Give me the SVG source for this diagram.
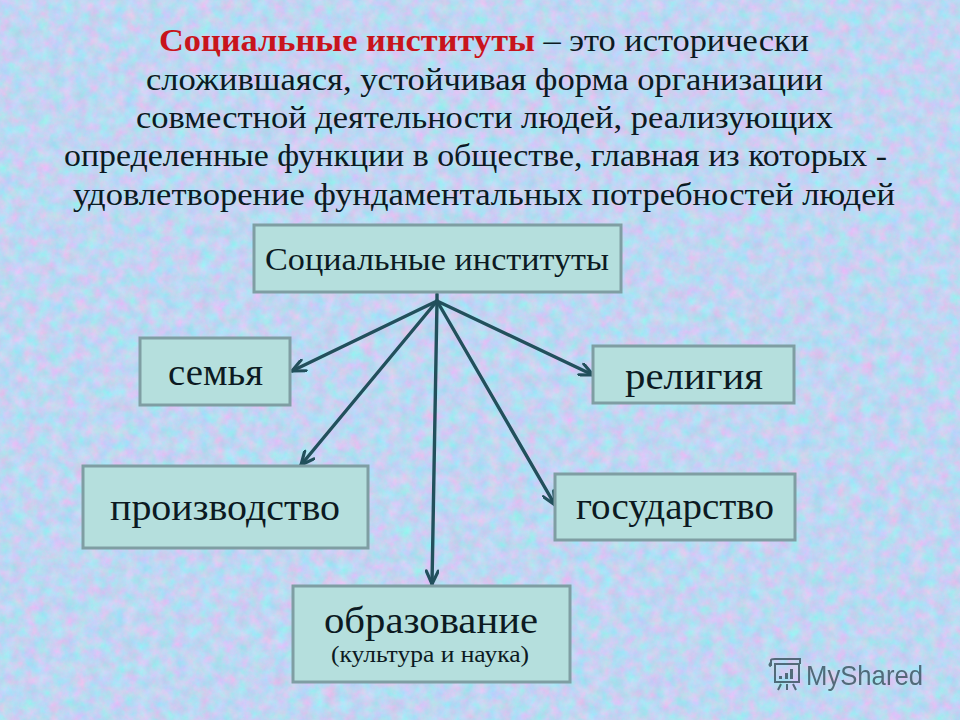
<svg xmlns="http://www.w3.org/2000/svg" width="960" height="720" viewBox="0 0 960 720">
<style>
text{font-family:"Liberation Serif","DejaVu Serif",serif;fill:#0c1a22}
.h{font-size:32px}
.b{fill:#b5dfdd;stroke:#7f9ea3;stroke-width:3}
.c{fill:none;stroke:#22505c;stroke-width:3.4;stroke-linecap:round}
</style>
<defs>
<filter id="tex" x="0" y="0" width="100%" height="100%" color-interpolation-filters="sRGB">
<feTurbulence type="fractalNoise" baseFrequency="0.08" numOctaves="5" seed="7"/>
<feColorMatrix values="0.42 0 0 0 0.54  -0.2 0.12 0 0 0.88  0 0 0.1 0 0.90  0 0 0 0 1"/>
</filter>
<marker id="a" viewBox="0 0 16 14" refX="15" refY="7" markerWidth="16" markerHeight="14" markerUnits="userSpaceOnUse" orient="auto">
<path d="M2 1L15 7L2 13" fill="none" stroke="#22505c" stroke-width="3.2" stroke-linecap="round" stroke-linejoin="round"/>
</marker>
</defs>
<rect id="background" width="960" height="720" fill="#b9cdec" filter="url(#tex)"/>
<g id="definition">
<text class="h" x="159" y="51" textLength="650" lengthAdjust="spacingAndGlyphs"><tspan font-weight="bold" style="fill:#c8141c">Социальные институты</tspan> – это исторически</text>
<text class="h" x="146" y="90" textLength="677" lengthAdjust="spacingAndGlyphs">сложившаяся, устойчивая форма организации</text>
<text class="h" x="136" y="128" textLength="697" lengthAdjust="spacingAndGlyphs">совместной деятельности людей, реализующих</text>
<text class="h" x="64" y="166" textLength="823" lengthAdjust="spacingAndGlyphs">определенные функции в обществе, главная из которых -</text>
<text class="h" x="73" y="205" textLength="822" lengthAdjust="spacingAndGlyphs">удовлетворение фундаментальных потребностей людей</text>
</g>
<g id="connectors">
<path class="c" d="M437 294V300"/>
<path class="c" marker-end="url(#a)" d="M437 301L292 371"/>
<path class="c" marker-end="url(#a)" d="M437 301L301 465"/>
<path class="c" marker-end="url(#a)" d="M437 301L432 584"/>
<path class="c" marker-end="url(#a)" d="M437 301L555 505"/>
<path class="c" marker-end="url(#a)" d="M437 301L593 375"/>
</g>
<g id="node-root">
<rect class="b" x="254" y="225" width="367" height="67"/>
<text x="265" y="270" font-size="32" textLength="344" lengthAdjust="spacingAndGlyphs">Социальные институты</text>
</g>
<g id="node-family">
<rect class="b" x="140" y="338" width="150" height="67"/>
<text x="168" y="385" font-size="37" textLength="95" lengthAdjust="spacingAndGlyphs">семья</text>
</g>
<g id="node-religion">
<rect class="b" x="593" y="346" width="201" height="57"/>
<text x="625" y="389" font-size="37" textLength="138" lengthAdjust="spacingAndGlyphs">религия</text>
</g>
<g id="node-production">
<rect class="b" x="83" y="466" width="285" height="82"/>
<text x="110" y="520" font-size="37" textLength="230" lengthAdjust="spacingAndGlyphs">производство</text>
</g>
<g id="node-state">
<rect class="b" x="555" y="474" width="240" height="66"/>
<text x="576" y="519" font-size="37" textLength="198" lengthAdjust="spacingAndGlyphs">государство</text>
</g>
<g id="node-education">
<rect class="b" x="293" y="586" width="277" height="96"/>
<text x="324" y="633" font-size="37" textLength="214" lengthAdjust="spacingAndGlyphs">образование</text>
<text x="331" y="662" font-size="24" textLength="198" lengthAdjust="spacingAndGlyphs">(культура и наука)</text>
</g>
<g id="watermark" opacity="0.8">
<g fill="none" stroke="#37505c" stroke-width="2">
<path d="M771 666V660Q771 659 775 659H800V664M771 666Q768 666 771 662M775 664H799V682H775Z"/>
<path d="M781 684L778 690M787 684V690M793 684L796 690"/>
</g>
<path fill="#37505c" d="M779 676h3v3h-3zM785 673h3v6h-3zM790 669h3v10h-3z"/>
<text x="806" y="685" font-size="28" textLength="117" lengthAdjust="spacingAndGlyphs" style="font-family:'Liberation Sans',sans-serif;fill:#37505c">MyShared</text>
</g>
</svg>
